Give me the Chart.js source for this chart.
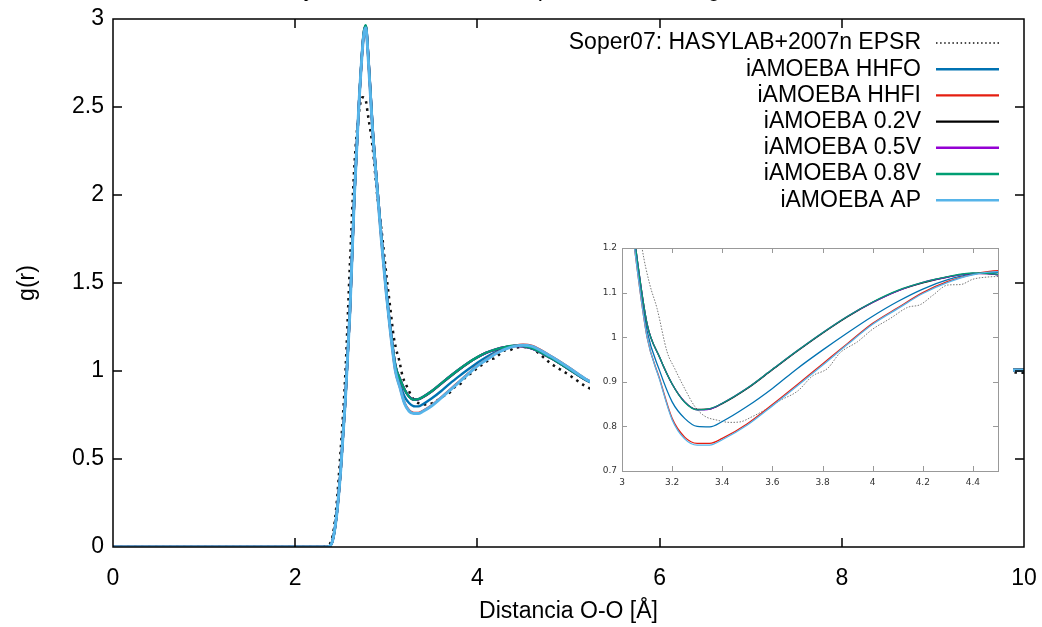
<!DOCTYPE html>
<html>
<head>
<meta charset="utf-8">
<script src="https://cdn.jsdelivr.net/npm/chart.js@4.4.1/dist/chart.umd.min.js"></script>
<style>
  html, body { margin: 0; padding: 0; background: #fff; }
  #wrap { position: relative; width: 1042px; height: 627px; overflow: hidden; }
  #mainChart { position: absolute; left: 0; top: 0; }
  #insetBox { position: absolute; left: 590px; top: 238px; width: 423px; height: 254px; background: #fff; }
</style>
</head>
<body>
<div id="wrap">
  <canvas id="mainChart" width="1042" height="627"></canvas>
  <div id="insetBox"><canvas id="insetChart" width="423" height="254"></canvas></div>
</div>
<script>
// ---- data ----
const titleText = 'Función de distribución radial O-O y datos iAMOEBA comparados con el agua a 298 K en condiciones estándar';
const xTitle = 'Distancia O-O [Å]';
const yTitle = 'g(r)';

const xTicks = [0, 2, 4, 6, 8, 10];
const yTicks = [0, 0.5, 1, 1.5, 2, 2.5, 3];
const xInsetTicks = [3, 3.2, 3.4, 3.6, 3.8, 4, 4.2, 4.4];
const yInsetTicks = [0.7, 0.8, 0.9, 1, 1.1, 1.2];

const seriesLabels = ['Soper07: HASYLAB+2007n EPSR', 'iAMOEBA HHFO', 'iAMOEBA HHFI',
  'iAMOEBA 0.2V', 'iAMOEBA 0.5V', 'iAMOEBA 0.8V', 'iAMOEBA AP'];
const seriesColors = ['#111111', '#0072b2', '#e51e10', '#000000', '#9400d3', '#009e73', '#56b4e9'];

// experiment (own r grid)
const rSoper = [0, 1, 2, 2.3, 2.35, 2.4, 2.45, 2.5, 2.55, 2.6, 2.65, 2.7, 2.74, 2.77,
  2.8, 2.85, 2.9, 2.95, 3.0, 3.05, 3.08, 3.11, 3.14,
  3.18, 3.21, 3.25, 3.29, 3.33, 3.38, 3.43, 3.47, 3.52, 3.58,
  3.63, 3.70, 3.76, 3.82, 3.87, 3.94, 4.0, 4.07, 4.14, 4.19,
  4.24, 4.30, 4.35, 4.40, 4.46, 4.5, 4.6, 4.8, 5.0, 5.2,
  5.4, 5.6, 5.8, 6.0, 6.3, 6.6, 6.9, 7.2, 7.6, 8.0,
  8.5, 9.0, 9.5, 10];
const gSoper = [0, 0, 0, 0, 0.01, 0.04, 0.22, 0.56, 0.98, 1.6, 2.17, 2.47, 2.555, 2.545,
  2.45, 2.27, 2.0, 1.79, 1.55, 1.33, 1.2, 1.12, 1.064,
  0.967, 0.93, 0.885, 0.845, 0.823, 0.814, 0.809, 0.81, 0.822, 0.84,
  0.858, 0.879, 0.913, 0.93, 0.965, 0.99, 1.018, 1.042, 1.067, 1.073,
  1.094, 1.117, 1.118, 1.13, 1.135, 1.136, 1.128, 1.045, 0.98, 0.91,
  0.87, 0.86, 0.88, 0.92, 0.98, 1.03, 1.05, 1.04, 1.0, 0.98,
  0.985, 1.0, 0.995, 0.99];

// simulations (shared r grid)
const rSim = [0, 1, 2, 2.3, 2.35, 2.4, 2.45, 2.5, 2.55, 2.6, 2.65, 2.7, 2.75, 2.775, 2.8, 2.85, 2.9, 2.95, 3.0, 3.05,
  3.1, 3.15, 3.2, 3.25, 3.3, 3.35, 3.4,
  3.5, 3.6, 3.7, 3.8, 3.9, 4.0, 4.1, 4.2, 4.3, 4.4, 4.5, 4.6,
  4.8, 5.0, 5.2,
  5.4, 5.6, 5.8, 6.0, 6.3, 6.6, 6.9, 7.2, 7.6, 8.0, 8.5, 9.0, 9.5, 10];
const gHHFO = [0, 0, 0, 0, 0, 0.02, 0.16, 0.44, 0.83, 1.33, 2.0, 2.52, 2.9, 2.95, 2.8, 2.37, 2.04, 1.73, 1.45, 1.21,
  1.015, 0.925, 0.855, 0.818, 0.8, 0.799, 0.811,
  0.845, 0.885, 0.93, 0.971, 1.01, 1.047, 1.08, 1.108, 1.129, 1.142, 1.145, 1.138,
  1.083, 1.018, 0.949,
  0.902, 0.885, 0.89, 0.925, 0.982, 1.03, 1.048, 1.038, 1.0, 0.982, 0.987, 1.0, 1.005, 1.004];
const gHHFI = [0, 0, 0, 0, 0, 0.02, 0.16, 0.44, 0.83, 1.33, 2.0, 2.52, 2.9, 2.95, 2.79, 2.36, 2.03, 1.72, 1.44, 1.2,
  1.0, 0.907, 0.818, 0.776, 0.762, 0.762, 0.773,
  0.806, 0.849, 0.894, 0.94, 0.986, 1.031, 1.066, 1.1, 1.125, 1.141, 1.149, 1.142,
  1.087, 1.022, 0.951,
  0.9, 0.881, 0.886, 0.921, 0.98, 1.03, 1.049, 1.04, 1.0, 0.981, 0.986, 1.0, 1.004, 1.003];
const g02V = [0, 0, 0, 0, 0, 0.02, 0.16, 0.44, 0.83, 1.33, 2.0, 2.52, 2.91, 2.96, 2.81, 2.38, 2.05, 1.74, 1.46, 1.22,
  1.03, 0.955, 0.895, 0.855, 0.838, 0.839, 0.851,
  0.885, 0.927, 0.969, 1.009, 1.046, 1.078, 1.104, 1.122, 1.135, 1.143, 1.14, 1.128,
  1.075, 1.012, 0.946,
  0.905, 0.89, 0.895, 0.93, 0.985, 1.03, 1.046, 1.036, 1.0, 0.983, 0.988, 1.001, 1.006, 1.006];
const g05V = [0, 0, 0, 0, 0, 0.02, 0.16, 0.44, 0.83, 1.33, 2.0, 2.52, 2.91, 2.96, 2.81, 2.38, 2.05, 1.74, 1.46, 1.22,
  1.03, 0.955, 0.895, 0.855, 0.837, 0.839, 0.852,
  0.886, 0.928, 0.97, 1.01, 1.047, 1.078, 1.104, 1.123, 1.135, 1.143, 1.14, 1.127,
  1.075, 1.012, 0.946,
  0.905, 0.89, 0.895, 0.93, 0.985, 1.03, 1.046, 1.036, 1.0, 0.983, 0.988, 1.001, 1.006, 1.007];
const g08V = [0, 0, 0, 0, 0, 0.02, 0.16, 0.44, 0.83, 1.33, 2.0, 2.52, 2.915, 2.965, 2.81, 2.38, 2.05, 1.74, 1.46, 1.22,
  1.03, 0.955, 0.895, 0.854, 0.837, 0.84, 0.852,
  0.886, 0.928, 0.97, 1.01, 1.047, 1.079, 1.105, 1.123, 1.136, 1.144, 1.141, 1.128,
  1.075, 1.012, 0.946,
  0.905, 0.89, 0.895, 0.93, 0.985, 1.03, 1.046, 1.036, 1.0, 0.983, 0.988, 1.001, 1.006, 1.008];
const gAP = [0, 0, 0, 0, 0, 0.02, 0.16, 0.44, 0.83, 1.33, 2.0, 2.52, 2.9, 2.95, 2.79, 2.36, 2.03, 1.72, 1.44, 1.2,
  1.0, 0.905, 0.815, 0.772, 0.758, 0.758, 0.77,
  0.803, 0.846, 0.891, 0.937, 0.984, 1.029, 1.064, 1.098, 1.123, 1.14, 1.147, 1.14,
  1.085, 1.02, 0.95,
  0.9, 0.88, 0.885, 0.92, 0.98, 1.03, 1.05, 1.04, 1.0, 0.98, 0.985, 1.0, 1.005, 1.003];

const FONT = '"Liberation Sans", Arial, sans-serif';
const INSET_FONT = '"DejaVu Sans", sans-serif';
const toPts = (xs, ys) => xs.map((x, i) => ({ x: x, y: ys[i] }));
const seriesData = [toPts(rSoper, gSoper), toPts(rSim, gHHFO), toPts(rSim, gHHFI),
  toPts(rSim, g02V), toPts(rSim, g05V), toPts(rSim, g08V), toPts(rSim, gAP)];

function makeDatasets(inset) {
  return seriesLabels.map((label, i) => {
    const dotted = i === 0;
    return {
      label: label,
      data: seriesData[i],
      borderColor: dotted && inset ? '#777' : seriesColors[i],
      borderWidth: inset ? (dotted ? 1 : 1.3) : (dotted ? 2.5 : (i === 6 ? 3 : 2.4)),
      borderDash: dotted ? (inset ? [1.5, 1.5] : [2.5, 4.5]) : [],
      pointRadius: 0,
      fill: false,
      cubicInterpolationMode: 'monotone',
      order: seriesLabels.length - i
    };
  });
}

// no extra label padding, so the plot box sits where gnuplot put it
function fixWidth(w) {
  return s => { s.width = w; s.paddingTop = 0; s.paddingBottom = 0; };
}
function fixHeight(h) {
  return s => { s.height = h; s.paddingLeft = 0; s.paddingRight = 0; };
}
const plainLabel = v => String(v);

// ---- main chart decorations (gnuplot style) ----
const mainFrame = {
  id: 'mainFrame',
  afterDraw(chart) {
    const { ctx, chartArea: a, scales: { x, y } } = chart;
    ctx.save();
    ctx.strokeStyle = '#000';
    ctx.lineWidth = 1.5;
    ctx.beginPath();
    xTicks.slice(1, -1).forEach(v => {
      const px = Math.round(x.getPixelForValue(v));
      ctx.moveTo(px, a.bottom); ctx.lineTo(px, a.bottom - 9);
      ctx.moveTo(px, a.top); ctx.lineTo(px, a.top + 9);
    });
    yTicks.slice(1, -1).forEach(v => {
      const py = Math.round(y.getPixelForValue(v));
      ctx.moveTo(a.left, py); ctx.lineTo(a.left + 9, py);
      ctx.moveTo(a.right, py); ctx.lineTo(a.right - 9, py);
    });
    ctx.stroke();
    ctx.strokeRect(a.left, a.top, a.right - a.left, a.bottom - a.top);

    ctx.fillStyle = '#000';
    ctx.font = '23px ' + FONT;
    // title, mostly cut off by the top edge
    ctx.textAlign = 'center';
    ctx.textBaseline = 'alphabetic';
    ctx.fillText(titleText, 518, -4);
    // axis titles
    ctx.textBaseline = 'middle';
    ctx.fillText(xTitle, (a.left + a.right) / 2, 612);
    ctx.save();
    ctx.translate(28, (a.top + a.bottom) / 2);
    ctx.rotate(-Math.PI / 2);
    ctx.fillText(yTitle, 0, 0);
    ctx.restore();

    // legend: right aligned text, sample on the right
    ctx.textAlign = 'right';
    chart.data.datasets.forEach((ds, i) => {
      const ly = 43 + i * 26.2;
      ctx.fillStyle = '#000';
      ctx.fillText(ds.label, 921, ly);
      ctx.strokeStyle = ds.borderColor;
      ctx.lineWidth = i === 0 ? 1.5 : 2.4;
      ctx.setLineDash(i === 0 ? [1.5, 2.6] : []);
      ctx.beginPath();
      ctx.moveTo(936, ly); ctx.lineTo(999, ly);
      ctx.stroke();
    });
    ctx.restore();
  }
};

new Chart(document.getElementById('mainChart'), {
  type: 'line',
  data: { datasets: makeDatasets(false) },
  options: {
    responsive: false,
    animation: false,
    layout: { padding: { left: 0, right: 18, top: 19, bottom: 0 } },
    plugins: { legend: { display: false }, tooltip: { enabled: false }, title: { display: false } },
    scales: {
      x: {
        type: 'linear', min: 0, max: 10,
        afterBuildTicks: s => { s.ticks = xTicks.map(v => ({ value: v })); },
        afterFit: fixHeight(80),
        grid: { display: false, drawTicks: false }, border: { display: false },
        ticks: { font: { family: FONT, size: 23 }, color: '#000', padding: 18, maxRotation: 0, autoSkip: false, callback: plainLabel }
      },
      y: {
        type: 'linear', min: 0, max: 3,
        afterBuildTicks: s => { s.ticks = yTicks.map(v => ({ value: v })); },
        afterFit: fixWidth(113),
        grid: { display: false, drawTicks: false }, border: { display: false },
        ticks: { font: { family: FONT, size: 23 }, color: '#000', padding: 9, callback: plainLabel }
      }
    }
  },
  plugins: [mainFrame]
});

// ---- inset (zoom on the first minimum) ----
const insetFrame = {
  id: 'insetFrame',
  afterDraw(chart) {
    const { ctx, chartArea: a, scales: { x, y } } = chart;
    ctx.save();
    ctx.strokeStyle = '#999';
    ctx.lineWidth = 1;
    ctx.beginPath();
    xInsetTicks.slice(1).forEach(v => {
      const px = Math.round(x.getPixelForValue(v)) + 0.5;
      ctx.moveTo(px, a.bottom); ctx.lineTo(px, a.bottom - 5);
      ctx.moveTo(px, a.top); ctx.lineTo(px, a.top + 5);
    });
    yInsetTicks.slice(1, -1).forEach(v => {
      const py = Math.round(y.getPixelForValue(v)) + 0.5;
      ctx.moveTo(a.left, py); ctx.lineTo(a.left + 5, py);
      ctx.moveTo(a.right, py); ctx.lineTo(a.right - 5, py);
    });
    ctx.stroke();
    ctx.strokeRect(Math.round(a.left) + 0.5, Math.round(a.top) + 0.5,
      Math.round(a.right - a.left), Math.round(a.bottom - a.top));
    ctx.restore();
  }
};

new Chart(document.getElementById('insetChart'), {
  type: 'line',
  data: { datasets: makeDatasets(true) },
  options: {
    responsive: false,
    animation: false,
    layout: { padding: { left: 0, right: 15, top: 10, bottom: 0 } },
    plugins: { legend: { display: false }, tooltip: { enabled: false } },
    scales: {
      x: {
        type: 'linear', min: 3, max: 4.5,
        afterBuildTicks: s => { s.ticks = xInsetTicks.map(v => ({ value: v })); },
        afterFit: fixHeight(21),
        grid: { display: false, drawTicks: false }, border: { display: false },
        ticks: { font: { family: INSET_FONT, size: 9 }, color: '#333', padding: 6, maxRotation: 0, autoSkip: false, callback: plainLabel }
      },
      y: {
        type: 'linear', min: 0.7, max: 1.2,
        afterBuildTicks: s => { s.ticks = yInsetTicks.map(v => ({ value: v })); },
        afterFit: fixWidth(32),
        grid: { display: false, drawTicks: false }, border: { display: false },
        ticks: { font: { family: INSET_FONT, size: 9 }, color: '#333', padding: 5, callback: plainLabel }
      }
    }
  },
  plugins: [insetFrame]
});
</script>
</body>
</html>
